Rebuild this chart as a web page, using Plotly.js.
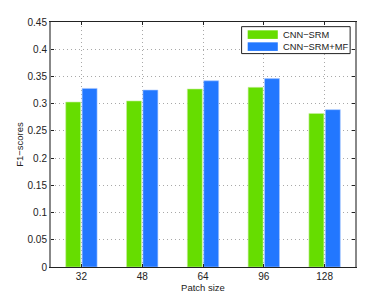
<!DOCTYPE html>
<html>
<head>
<meta charset="utf-8">
<script src="https://cdn.plot.ly/plotly-3.0.1.min.js"></script>
<style>html,body{margin:0;padding:0;background:#fff;}#chart{width:392px;height:301px;}</style>
</head>
<body>
<div id="chart"></div>
<script>
var patchSizes = ["32", "48", "64", "96", "128"];
var cnnSrm = [0.303, 0.305, 0.327, 0.330, 0.282];
var cnnSrmMf = [0.328, 0.325, 0.342, 0.346, 0.289];
var seriesNames = ["CNN\u2212SRM", "CNN\u2212SRM+MF"];
var seriesColors = ["#66dd00", "#2277ff"];
var yTicks = [0, 0.05, 0.1, 0.15, 0.2, 0.25, 0.3, 0.35, 0.4, 0.45];

var font = "Liberation Sans, Arial, sans-serif";
var traces = [
  {type: "bar", x: patchSizes, y: cnnSrm, name: seriesNames[0],
   marker: {color: seriesColors[0], line: {color: "#c8f0a0", width: 0.6}}},
  {type: "bar", x: patchSizes, y: cnnSrmMf, name: seriesNames[1],
   marker: {color: seriesColors[1], line: {color: "#a8c8ff", width: 0.6}}}
];
var axisCommon = {
  showline: true, mirror: "ticks",
  ticks: "inside", ticklen: 3, tickcolor: "#222", tickwidth: 1,
  showgrid: true, gridcolor: "#a8a8a8", griddash: "1px,3px", gridwidth: 1,
  zeroline: false, tickfont: {family: font, size: 10, color: "#222"}
};

// Custom legend (wide swatches like the original)
var legBox = {x0: 0.627, x1: 0.984, y0: 0.871, y1: 0.981};
var swX = [0.647, 0.746];
var swY = [[0.931, 0.966], [0.882, 0.917]];
var txtX = 0.755;
var txtY = [0.948, 0.899];
var shapes = [{type: "rect", xref: "paper", yref: "paper",
  x0: legBox.x0, x1: legBox.x1, y0: legBox.y0, y1: legBox.y1,
  fillcolor: "#fff", line: {color: "#222", width: 1}, layer: "above"}];
var annotations = [];
for (var i = 0; i < seriesNames.length; i++) {
  shapes.push({type: "rect", xref: "paper", yref: "paper",
    x0: swX[0], x1: swX[1], y0: swY[i][0], y1: swY[i][1],
    fillcolor: seriesColors[i], line: {width: 0}, layer: "above"});
  annotations.push({xref: "paper", yref: "paper", x: txtX, y: txtY[i],
    xanchor: "left", yanchor: "middle", showarrow: false, text: seriesNames[i],
    font: {family: font, size: 9.3, color: "#222"}});
}

var layout = {
  width: 392, height: 301,
  margin: {l: 51, r: 37, t: 22, b: 34},
  paper_bgcolor: "#fff", plot_bgcolor: "#fff",
  barmode: "group", bargap: 0.46, bargroupgap: 0.09,
  showlegend: false,
  shapes: shapes, annotations: annotations,
  xaxis: Object.assign({}, axisCommon, {
    type: "category", range: [-0.5, 4.5], linecolor: "#222", linewidth: 1,
    title: {text: "Patch size", font: {family: font, size: 9.5, color: "#222"}, standoff: 3}
  }),
  yaxis: Object.assign({}, axisCommon, {
    range: [0, 0.45], tickvals: yTicks, linecolor: "#888", linewidth: 2,
    ticktext: yTicks.map(function(v){return String(v);}),
    title: {text: "F1\u2212scores", font: {family: font, size: 9.5, color: "#222"}, standoff: 2}
  })
};
Plotly.newPlot("chart", traces, layout, {displayModeBar: false, staticPlot: true});
</script>
</body>
</html>
